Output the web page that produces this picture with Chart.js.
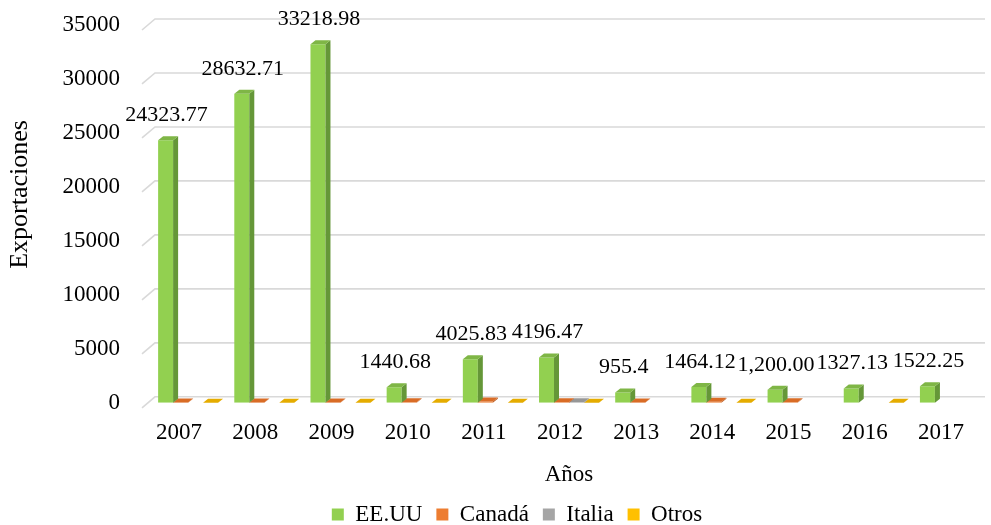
<!DOCTYPE html>
<html><head><meta charset="utf-8">
<script src="https://cdn.jsdelivr.net/npm/chart.js@4.4.1/dist/chart.umd.min.js"></script>
<style>html,body{margin:0;padding:0;background:#fff;}</style>
</head><body>
<canvas id="c" width="991" height="525"></canvas>
<script>
const years = ['2007','2008','2009','2010','2011','2012','2013','2014','2015','2016','2017'];
const eeuu = [24323.77, 28632.71, 33218.98, 1440.68, 4025.83, 4196.47, 955.4, 1464.12, 1200.00, 1327.13, 1522.25];
const eeuuLabels = ['24323.77','28632.71','33218.98','1440.68','4025.83','4196.47','955.4','1464.12','1,200.00','1327.13','1522.25'];
const canada = [20, 20, 20, 60, 120, 40, 30, 100, 40, null, null];
const italia = [null, null, null, null, null, 60, null, null, null, null, null];
const otros = [10, 10, 10, 10, 10, 10, null, 10, null, 10, null];
const yTicks = [0, 5000, 10000, 15000, 20000, 25000, 30000, 35000];

const FONT = 'Liberation Serif, Times New Roman, serif';
const shades = [
  {top:'#7FB646', side:'#659738'},
  {top:'#D96C26', side:'#B9581C'},
  {top:'#979797', side:'#808080'},
  {top:'#E5AC00', side:'#C89400'}
];
const DX = 5, DY = 4;

const gridPlugin = {
  id: 'grid3d',
  beforeDatasetsDraw(chart) {
    const {ctx, chartArea} = chart;
    const ys = chart.scales.y;
    ctx.save();
    ctx.strokeStyle = '#D9D9D9';
    ctx.lineWidth = 1.6;
    yTicks.forEach(v => {
      const yf = ys.getPixelForValue(v);
      ctx.beginPath();
      ctx.moveTo(chartArea.left - 8, yf + 5);
      ctx.lineTo(chartArea.left + 5, yf - 6);
      ctx.lineTo(chartArea.right - 3, yf - 6);
      ctx.stroke();
    });
    ctx.restore();
  }
};

const bar3dPlugin = {
  id: 'bar3d',
  afterDatasetDraw(chart, args) {
    const {ctx} = chart;
    const i = args.index;
    const sh = shades[i];
    const data = chart.data.datasets[i].data;
    ctx.save();
    args.meta.data.forEach((bar, j) => {
      if (data[j] == null) return;
      const p = bar.getProps(['x','y','base','width'], true);
      const l = p.x - p.width/2, r = p.x + p.width/2;
      ctx.fillStyle = sh.side;
      ctx.beginPath();
      ctx.moveTo(r, p.y); ctx.lineTo(r + DX, p.y - DY);
      ctx.lineTo(r + DX, p.base - DY); ctx.lineTo(r, p.base);
      ctx.closePath(); ctx.fill();
      ctx.fillStyle = sh.top;
      ctx.beginPath();
      ctx.moveTo(l, p.y); ctx.lineTo(l + DX, p.y - DY);
      ctx.lineTo(r + DX, p.y - DY); ctx.lineTo(r, p.y);
      ctx.closePath(); ctx.fill();
    });
    ctx.restore();
  }
};

const labelPlugin = {
  id: 'vlabels',
  afterDatasetsDraw(chart) {
    const {ctx} = chart;
    const meta = chart.getDatasetMeta(0);
    ctx.save();
    ctx.font = '22px ' + FONT;
    ctx.fillStyle = '#000';
    ctx.textAlign = 'center';
    ctx.textBaseline = 'middle';
    meta.data.forEach((bar, j) => {
      const p = bar.getProps(['x','y'], true);
      ctx.fillText(eeuuLabels[j], p.x + 1, p.y - 25);
    });
    ctx.restore();
  }
};

new Chart(document.getElementById('c'), {
  type: 'bar',
  data: {
    labels: years,
    datasets: [
      {label:'EE.UU', data: eeuu, backgroundColor:'#92D050'},
      {label:'Canadá', data: canada, backgroundColor:'#ED7D31'},
      {label:'Italia', data: italia, backgroundColor:'#A5A5A5'},
      {label:'Otros', data: otros, backgroundColor:'#FFC000'}
    ]
  },
  options: {
    responsive: false,
    animation: false,
    devicePixelRatio: 1,
    layout: {padding: {top: 25, right: 3, left: 46, bottom: -11}},
    datasets: {bar: {barPercentage: 1, categoryPercentage: 0.787, borderWidth: 0}},
    plugins: {
      legend: {
        position: 'bottom',
        labels: {font: {family: FONT, size: 23}, color: '#000', boxWidth: 12, boxHeight: 12, padding: 14}
      },
      tooltip: {enabled: false}
    },
    scales: {
      x: {
        grid: {display: false},
        border: {display: false},
        ticks: {font: {family: FONT, size: 23}, color: '#000', padding: 8, labelOffset: -9, maxRotation: 0},
        title: {display: true, text: 'Años', font: {family: FONT, size: 23}, color: '#000', padding: {top: 7, bottom: 0}}
      },
      y: {
        min: 0, max: 35000,
        grid: {display: false},
        border: {display: false},
        afterFit(s) { s.width = 104; s.paddingTop = 0; s.paddingBottom = 0; },
        afterBuildTicks(s) { s.ticks = yTicks.map(v => ({value: v})); },
        ticks: {font: {family: FONT, size: 23}, color: '#000', padding: 22, callback: v => String(v)},
        title: {display: true, text: '      Exportaciones', font: {family: FONT, size: 26}, color: '#000', padding: {top: -41, bottom: 0}}
      }
    }
  },
  plugins: [gridPlugin, bar3dPlugin, labelPlugin]
});
</script>
</body></html>
